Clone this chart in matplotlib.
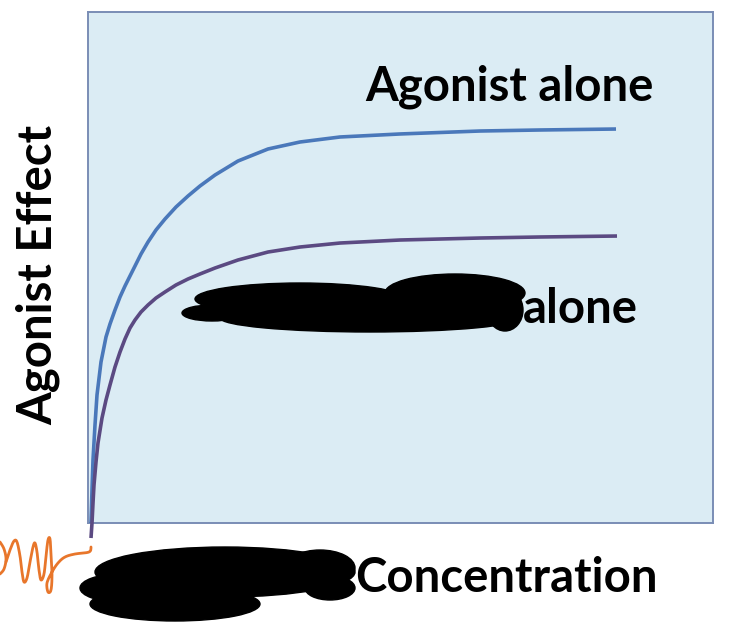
import matplotlib
matplotlib.use("Agg")
import numpy as np
import matplotlib.pyplot as plt
import matplotlib.patheffects as pe
from matplotlib.patches import Ellipse

# curves (x: % of axis width, y: % of axis height)
conc_alone = [0.48, 0.64, 0.80, 1.12, 1.44, 2.08, 2.88, 3.52, 4.32, 5.12, 5.92,
              6.72, 7.52, 8.48, 9.60, 10.88, 12.32, 14.08, 16.00, 17.92, 20.32,
              24.00, 28.80, 33.92, 40.32, 49.92, 62.72, 72.32, 84.48]
effect_alone = [0.0, 6.46, 12.33, 19.18, 25.05, 31.51, 36.40, 38.94, 41.68,
                44.23, 46.38, 48.34, 50.29, 52.64, 54.99, 57.34, 59.49, 61.84,
                63.99, 65.95, 68.10, 70.84, 73.19, 74.56, 75.54, 76.13, 76.71,
                76.91, 77.10]
conc_other = [0.48, 0.64, 0.80, 0.96, 1.28, 1.60, 2.24, 2.88, 3.52, 4.32, 5.12,
              5.92, 6.72, 7.52, 8.48, 9.60, 10.88, 12.32, 14.08, 16.00, 17.92,
              20.32, 24.00, 28.80, 33.92, 40.32, 49.92, 62.72, 72.32, 84.64]
effect_other = [-2.94, 0.0, 3.91, 7.44, 11.94, 15.66, 20.55, 24.07, 27.01,
                30.53, 33.46, 36.01, 38.16, 39.73, 41.29, 42.66, 44.03, 45.21,
                46.58, 47.75, 48.73, 49.90, 51.47, 53.03, 54.01, 54.79, 55.38,
                55.77, 55.97, 56.16]

label_alone = "Agonist alone"
label_other = "alone"
xlabel = "Concentration"
ylabel = "Agonist Effect"


def smooth(pts, n=8):
    # catmull-rom through the pen points of the hand scribble
    p = np.array(pts, dtype=float)
    p = np.vstack([p[0], p, p[-1]])
    out = []
    for i in range(1, len(p) - 2):
        p0, p1, p2, p3 = p[i - 1], p[i], p[i + 1], p[i + 2]
        for t in np.linspace(0, 1, n, endpoint=False):
            out.append(0.5 * (2 * p1 + (-p0 + p2) * t
                              + (2 * p0 - 5 * p1 + 4 * p2 - p3) * t ** 2
                              + (-p0 + 3 * p1 - 3 * p2 + p3) * t ** 3))
    out.append(p[-2])
    return np.array(out)


W, H = 731, 622
fig = plt.figure(figsize=(W / 100, H / 100), dpi=100)
fig.patch.set_facecolor("white")

# plot box in pixel positions
x0, x1, y0, y1 = 88, 713, 12, 523
ax = fig.add_axes([x0 / W, 1 - y1 / H, (x1 - x0) / W, (y1 - y0) / H])
ax.set_facecolor("#dbecf4")
ax.set_xlim(0, 100)
ax.set_ylim(0, 100)
ax.set_xticks([])
ax.set_yticks([])
for s in ax.spines.values():
    s.set_color("#7a8db5")
    s.set_linewidth(1.4)
    s.set_path_effects([pe.withSimplePatchShadow(offset=(1.5, -1.5), alpha=0.35)])

ax.plot(conc_alone, effect_alone, color="#4a78ba", lw=2.6,
        solid_capstyle="butt", solid_joinstyle="round", clip_on=False, zorder=3)
ax.plot(conc_other, effect_other, color="#5b4a82", lw=2.6,
        solid_capstyle="butt", solid_joinstyle="round", clip_on=False, zorder=3)

font = dict(family=["Lato", "DejaVu Sans"], fontweight="bold", color="black")
fig.text(509 / W, 1 - 87 / H, label_alone, ha="center", va="center", fontsize=34, **font)
fig.text(580 / W, 1 - 309 / H, label_other, ha="center", va="center", fontsize=34, **font)
fig.text(506 / W, 1 - 578 / H, xlabel, ha="center", va="center", fontsize=34, **font)
fig.text(38 / W, 1 - 275 / H, ylabel, ha="center", va="center", rotation=90, fontsize=34, **font)

# overlay in pixel coordinates for the scribbles
ov = fig.add_axes([0, 0, 1, 1], facecolor="none")
ov.set_xlim(0, W)
ov.set_ylim(H, 0)
ov.axis("off")

blobs = [
    (300, 299, 210, 32), (455, 293, 140, 38), (370, 318, 300, 28),
    (212, 313, 60, 16), (505, 310, 36, 42),
    (225, 572, 260, 50), (320, 568, 70, 36), (330, 588, 50, 24),
    (175, 604, 170, 34), (120, 588, 80, 28),
]
for cx, cy, w, h in blobs:
    ov.add_patch(Ellipse((cx, cy), w, h, color="black", zorder=5))

pen_o = [(0, 542), (4, 549), (6, 559), (4, 569), (0, 574)]
pen_main = [(6, 562), (10, 550), (14, 541), (17, 542), (20, 556), (22, 572),
            (24, 582), (27, 578), (30, 562), (33, 547), (35, 543), (37, 552),
            (39, 570), (41, 580), (44, 574), (46, 556), (48, 540), (50, 539),
            (51, 555), (52, 575), (51, 590), (48, 592), (47, 583), (52, 572),
            (58, 563), (65, 557), (75, 554), (89, 552), (91, 547)]
for pen in (pen_o, pen_main):
    sq = smooth(pen)
    ov.plot(sq[:, 0], sq[:, 1], color="#e8762b", lw=2.0,
            solid_joinstyle="round", solid_capstyle="round", zorder=6)

fig.savefig("out.png", dpi=100)
